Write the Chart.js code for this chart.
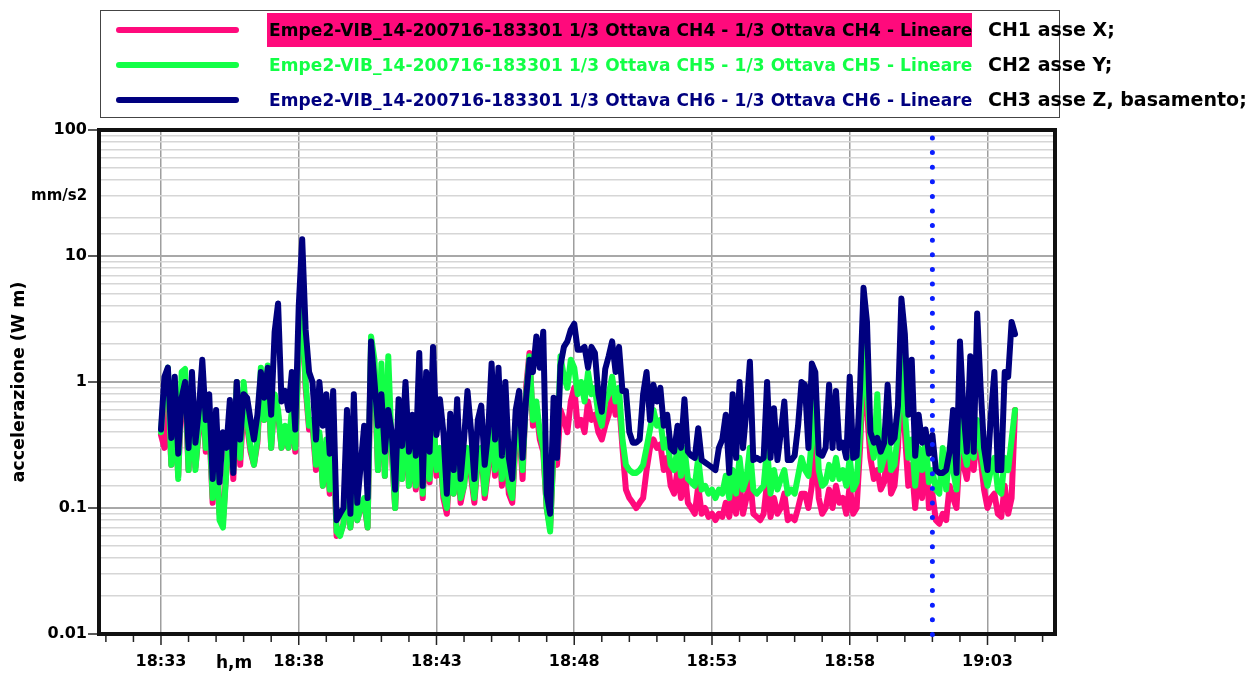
<!DOCTYPE html>
<html lang="it">
<head>
<meta charset="UTF-8" />
<title>Empe2-VIB_14 - 1/3 Ottava CH4/CH5/CH6</title>
<script src="https://cdn.jsdelivr.net/npm/chart.js"></script>
<style>
  html, body { margin: 0; padding: 0; background: #fff; }
  body { position: relative; width: 1252px; height: 675px; overflow: hidden;
         font-family: "DejaVu Sans", sans-serif; font-weight: bold; }
  #chart { position: absolute; left: 0; top: 0; }
  #legend { position: absolute; left: 100px; top: 10px; width: 960px; height: 108px;
            border: 1.5px solid #444; box-sizing: border-box; }
  .swatch { position: absolute; left: 115px; width: 123px; height: 6px; border-radius: 3px; }
  .series-label { position: absolute; left: 266px; height: 34px; line-height: 34px; padding-left: 2px;
                  font-size: 17px; letter-spacing: 0.1px; white-space: nowrap; }
  .note { position: absolute; left: 988px; height: 34px; line-height: 34px; font-size: 19px;
          color: #000; white-space: nowrap; }
  .unit { position: absolute; font-size: 15px; color: #000; white-space: nowrap; }
</style>
</head>
<body>
  <canvas id="chart" width="1252" height="675"></canvas>
  <div id="legend"></div>
  <div class="unit" style="left:31px; top:186px;">mm/s2</div>
  <div class="unit" style="left:216px; top:652px; font-size:17px;">h,m</div>

<script>
  // sampling: first sample at 18:33:00, one sample every 7.5 s (minutes since midnight)
  const START_MIN = 18 * 60 + 33;
  const STEP_MIN = 0.125;
  const X_MIN = 1110.75;
  const X_MAX = 1145.45;
  const CURSOR_MIN = 19 * 60 + 1;

  const xTickMinutes = [];
  for (let m = 1111; m <= 1145; m++) xTickMinutes.push(m);
  const xLabelMinutes = [1113, 1118, 1123, 1128, 1133, 1138, 1143];
  const yLabels = ['0.01', '0.1', '1', '10', '100'];

  const seriesLabels = [
    'Empe2-VIB_14-200716-183301 1/3 Ottava CH4 - 1/3 Ottava CH4 - Lineare',
    'Empe2-VIB_14-200716-183301 1/3 Ottava CH5 - 1/3 Ottava CH5 - Lineare',
    'Empe2-VIB_14-200716-183301 1/3 Ottava CH6 - 1/3 Ottava CH6 - Lineare'
  ];
  const channelNotes = ['CH1 asse X;', 'CH2 asse Y;', 'CH3 asse Z, basamento;'];
  const seriesColors = ['#ff0a7c', '#12ff46', '#00007f'];

  // CH4 (pink)
  const ch4 = [
    0.38,0.3,0.9,0.22,0.65,0.18,0.8,0.9,
    0.2,0.75,0.21,0.4,0.85,0.28,0.45,0.11,
    0.38,0.09,0.08,0.2,0.5,0.17,1.0,0.22,
    0.7,0.45,0.28,0.22,0.33,1.0,0.5,1.1,
    0.3,0.75,0.55,0.3,0.42,0.3,0.55,0.28,
    1.8,4.0,0.9,0.42,0.45,0.2,0.38,0.15,
    0.33,0.13,0.38,0.06,0.062,0.075,0.2,0.07,
    0.14,0.08,0.1,0.11,0.07,1.9,1.2,0.2,
    1.0,0.18,0.9,0.28,0.1,0.38,0.17,0.5,
    0.15,0.28,0.14,0.55,0.12,0.45,0.16,0.55,
    0.18,0.28,0.12,0.09,0.24,0.13,0.28,0.11,
    0.15,0.28,0.18,0.11,0.24,0.28,0.12,0.2,
    0.45,0.18,0.4,0.15,0.35,0.13,0.11,0.35,
    0.45,0.17,0.9,1.7,0.45,0.6,0.35,0.28,
    0.1,0.07,0.28,0.22,0.6,0.5,0.4,0.7,
    0.9,0.45,0.5,0.4,0.7,0.5,0.55,0.4,
    0.35,0.45,0.55,0.8,0.55,0.7,0.3,0.14,
    0.12,0.11,0.1,0.11,0.12,0.2,0.3,0.35,
    0.3,0.32,0.2,0.25,0.15,0.13,0.2,0.12,
    0.2,0.11,0.1,0.09,0.15,0.09,0.1,0.085,
    0.09,0.08,0.09,0.085,0.11,0.085,0.13,0.09,
    0.16,0.09,0.12,0.18,0.09,0.085,0.08,0.09,
    0.16,0.085,0.12,0.09,0.1,0.13,0.08,0.085,
    0.08,0.1,0.13,0.13,0.1,0.15,0.35,0.12,
    0.09,0.1,0.14,0.1,0.15,0.11,0.12,0.09,
    0.15,0.09,0.1,0.3,1.5,0.6,0.25,0.17,
    0.2,0.14,0.16,0.3,0.13,0.15,0.3,1.2,
    0.4,0.15,0.22,0.1,0.2,0.12,0.32,0.1,
    0.13,0.08,0.075,0.09,0.08,0.15,0.12,0.1,
    0.3,0.22,0.17,0.3,0.2,0.4,0.25,0.14,
    0.1,0.12,0.13,0.09,0.085,0.15,0.09,0.12,
    0.6
  ];

  // CH5 (green)
  const ch5 = [
    0.4,0.9,1.3,0.22,0.7,0.17,1.2,1.27,
    0.2,0.8,0.2,0.45,0.9,0.3,0.5,0.12,
    0.4,0.08,0.07,0.2,0.5,0.2,1.0,0.25,
    1.0,0.5,0.3,0.22,0.35,1.3,0.5,1.35,
    0.3,0.8,0.6,0.3,0.45,0.3,0.6,0.3,
    2.0,4.5,1.0,0.45,0.5,0.22,0.4,0.15,
    0.35,0.14,0.4,0.065,0.06,0.075,0.2,0.07,
    0.15,0.08,0.1,0.12,0.07,2.3,1.5,0.2,
    1.4,0.18,1.6,0.3,0.1,0.4,0.17,0.9,
    0.15,0.3,0.15,0.6,0.13,0.5,0.17,0.6,
    0.2,0.3,0.13,0.1,0.25,0.13,0.3,0.12,
    0.15,0.3,0.2,0.12,0.25,0.3,0.13,0.22,
    0.5,0.2,0.45,0.17,0.4,0.15,0.12,0.4,
    0.5,0.2,0.8,1.6,0.5,0.7,0.4,0.3,
    0.1,0.065,0.3,0.25,1.6,1.1,0.9,1.5,
    1.3,0.8,1.0,0.7,1.2,0.8,0.9,0.55,
    0.45,0.7,0.8,1.1,0.7,0.9,0.35,0.22,
    0.2,0.19,0.19,0.2,0.22,0.3,0.42,0.6,
    0.45,0.5,0.3,0.35,0.22,0.2,0.3,0.18,
    0.3,0.17,0.16,0.15,0.25,0.14,0.15,0.13,
    0.14,0.12,0.14,0.13,0.18,0.12,0.2,0.13,
    0.25,0.14,0.17,0.3,0.14,0.13,0.14,0.15,
    0.3,0.13,0.2,0.14,0.17,0.2,0.13,0.14,
    0.13,0.18,0.25,0.2,0.18,0.35,0.7,0.2,
    0.15,0.16,0.22,0.17,0.25,0.17,0.2,0.15,
    0.25,0.14,0.16,0.4,2.2,0.9,0.35,0.25,
    0.8,0.2,0.25,0.45,0.2,0.22,0.4,1.6,
    0.6,0.25,0.35,0.15,0.3,0.2,0.35,0.16,
    0.2,0.14,0.13,0.3,0.14,0.3,0.2,0.14,
    0.5,0.3,0.22,0.4,0.25,0.5,0.3,0.2,
    0.15,0.2,0.25,0.14,0.13,0.25,0.2,0.35,
    0.6
  ];

  // CH6 (navy)
  const ch6 = [
    0.42,1.1,1.3,0.36,1.1,0.27,0.75,1.0,
    0.3,1.2,0.33,0.6,1.5,0.5,0.8,0.17,
    0.6,0.16,0.4,0.3,0.72,0.19,1.0,0.35,
    0.8,0.75,0.5,0.35,0.55,1.2,0.75,1.3,
    0.55,2.5,4.2,0.7,0.85,0.6,1.2,0.42,
    4.0,13.6,2.6,1.2,1.0,0.35,1.0,0.45,
    0.8,0.27,0.85,0.08,0.09,0.1,0.6,0.09,
    0.8,0.11,0.22,0.45,0.12,2.1,1.0,0.45,
    0.8,0.28,0.6,0.4,0.14,0.73,0.31,1.0,
    0.28,0.55,0.26,1.7,0.15,1.2,0.28,1.9,
    0.38,0.73,0.4,0.13,0.56,0.2,0.73,0.17,
    0.35,0.85,0.42,0.17,0.5,0.65,0.22,0.4,
    1.4,0.35,1.3,0.26,1.0,0.25,0.17,0.6,
    0.85,0.25,0.73,1.5,1.2,2.3,1.3,2.5,
    0.13,0.09,0.75,0.25,1.35,1.9,2.1,2.6,
    2.9,1.8,1.8,1.9,1.3,1.9,1.7,0.8,
    0.58,1.27,1.6,2.1,1.2,1.9,0.85,0.85,
    0.4,0.33,0.33,0.35,0.8,1.2,0.5,0.95,
    0.7,0.9,0.45,0.55,0.3,0.28,0.45,0.3,
    0.73,0.28,0.26,0.25,0.43,0.24,0.23,0.22,
    0.21,0.2,0.3,0.35,0.55,0.19,0.8,0.25,
    1.0,0.3,0.6,1.45,0.24,0.25,0.24,0.25,
    1.0,0.25,0.62,0.24,0.4,0.7,0.24,0.24,
    0.26,0.45,1.0,0.95,0.3,1.4,1.2,0.27,
    0.26,0.3,0.95,0.3,0.85,0.3,0.33,0.25,
    1.1,0.25,0.26,0.9,5.6,3.0,0.4,0.33,
    0.36,0.28,0.33,0.95,0.33,0.36,0.65,4.6,
    2.4,0.55,1.5,0.26,0.55,0.33,0.42,0.27,
    0.38,0.2,0.19,0.19,0.2,0.28,0.6,0.19,
    2.1,0.6,0.28,1.6,0.28,3.5,0.9,0.3,
    0.2,0.55,1.2,0.2,0.2,1.2,1.1,3.0,
    2.4
  ];

  // legend (html)
  const legend = document.getElementById('legend');
  seriesLabels.forEach((label, i) => {
    const rowTop = 12 + i * 35;
    const sw = document.createElement('div');
    sw.className = 'swatch';
    sw.style.left = '15px';
    sw.style.top = (rowTop + 4) + 'px';
    sw.style.background = seriesColors[i];
    legend.appendChild(sw);

    const lb = document.createElement('div');
    lb.className = 'series-label';
    lb.textContent = label;
    lb.style.left = '166px';
    lb.style.top = (rowTop - 10) + 'px';
    if (i === 0) { lb.style.background = seriesColors[0]; lb.style.color = '#000'; }
    else lb.style.color = seriesColors[i];
    legend.appendChild(lb);

    const note = document.createElement('div');
    note.className = 'note';
    note.textContent = channelNotes[i];
    note.style.top = rowTop + 'px';
    document.body.appendChild(note);
  });

  const toPoints = arr => arr.map((v, i) => ({ x: START_MIN + i * STEP_MIN, y: v }));
  const fmtTime = v => Math.floor(v / 60) + ':' + String(Math.round(v % 60)).padStart(2, '0');
  const isDecade = v => Math.abs(Math.log10(v) - Math.round(Math.log10(v))) < 1e-6;
  const isMajorX = v => xLabelMinutes.includes(Math.round(v));

  // thick frame, custom tick marks, cursor line
  const decorations = {
    id: 'decorations',
    afterDatasetsDraw(chart) {
      const { ctx, chartArea: a, scales: { x, y } } = chart;
      ctx.save();
      // frame
      ctx.strokeStyle = '#111';
      ctx.lineWidth = 4;
      ctx.strokeRect(a.left, a.top, a.right - a.left, a.bottom - a.top);
      // tick marks
      ctx.lineWidth = 1.5;
      ctx.strokeStyle = '#222';
      x.ticks.forEach(t => {
        const px = x.getPixelForValue(t.value);
        const len = isMajorX(t.value) ? 9 : 6;
        ctx.beginPath();
        ctx.moveTo(px, a.bottom + 2);
        ctx.lineTo(px, a.bottom + 2 + len);
        ctx.stroke();
      });
      y.ticks.forEach(t => {
        if (!isDecade(t.value)) return;
        const py = y.getPixelForValue(t.value);
        ctx.beginPath();
        ctx.moveTo(a.left - 2, py);
        ctx.lineTo(a.left - 11, py);
        ctx.stroke();
      });
      // cursor at 19:01, drawn over the frame
      const cx = x.getPixelForValue(CURSOR_MIN);
      ctx.strokeStyle = '#0a1eff';
      ctx.lineWidth = 5;
      ctx.lineCap = 'round';
      ctx.setLineDash([0, 14.6]);
      ctx.beginPath();
      ctx.moveTo(cx, a.top + 8);
      ctx.lineTo(cx, a.bottom + 3);
      ctx.stroke();
      ctx.restore();
    }
  };

  const dsStyle = (color, order) => ({
    borderColor: color, backgroundColor: color, borderWidth: 6,
    pointRadius: 0, tension: 0, order,
    borderJoinStyle: 'round', borderCapStyle: 'round', fill: false
  });

  new Chart(document.getElementById('chart'), {
    type: 'line',
    data: {
      datasets: [
        { label: seriesLabels[0], data: toPoints(ch4), ...dsStyle(seriesColors[0], 3) },
        { label: seriesLabels[1], data: toPoints(ch5), ...dsStyle(seriesColors[1], 2) },
        { label: seriesLabels[2], data: toPoints(ch6), ...dsStyle(seriesColors[2], 1) }
      ]
    },
    options: {
      responsive: false,
      animation: false,
      layout: { padding: { top: 130, right: 197, left: 0, bottom: 0 } },
      plugins: { legend: { display: false }, tooltip: { enabled: false } },
      scales: {
        x: {
          type: 'linear',
          min: X_MIN,
          max: X_MAX,
          afterBuildTicks: s => { s.ticks = xTickMinutes.map(v => ({ value: v })); },
          afterFit: s => { s.height = 41; },
          border: { display: false },
          grid: {
            color: c => (c.tick && isMajorX(c.tick.value)) ? '#9e9e9e' : 'rgba(0,0,0,0)',
            lineWidth: 1.5,
            tickColor: 'rgba(0,0,0,0)',
            tickLength: 9
          },
          ticks: {
            autoSkip: false, maxRotation: 0, padding: 9, color: '#000',
            font: { family: 'DejaVu Sans', size: 16, weight: 'bold' },
            callback: v => isMajorX(v) ? fmtTime(v) : ''
          }
        },
        y: {
          type: 'logarithmic',
          min: 0.01,
          max: 100,
          afterFit: s => { s.width = 99; },
          border: { display: false },
          title: {
            display: true, text: 'accelerazione (W m)', color: '#000',
            font: { family: 'DejaVu Sans', size: 17.5, weight: 'bold' },
            padding: { top: 9, bottom: 0 }
          },
          grid: {
            color: c => (c.tick && isDecade(c.tick.value)) ? '#a8a8a8' : '#d6d6d6',
            lineWidth: c => (c.tick && isDecade(c.tick.value)) ? 2 : 1.5,
            tickColor: 'rgba(0,0,0,0)',
            tickLength: 10
          },
          ticks: {
            autoSkip: false, padding: 2, color: '#000',
            font: { family: 'DejaVu Sans', size: 16, weight: 'bold' },
            callback: v => isDecade(v) ? yLabels[Math.round(Math.log10(v)) + 2] : ''
          }
        }
      }
    },
    plugins: [decorations]
  });
</script>
</body>
</html>
